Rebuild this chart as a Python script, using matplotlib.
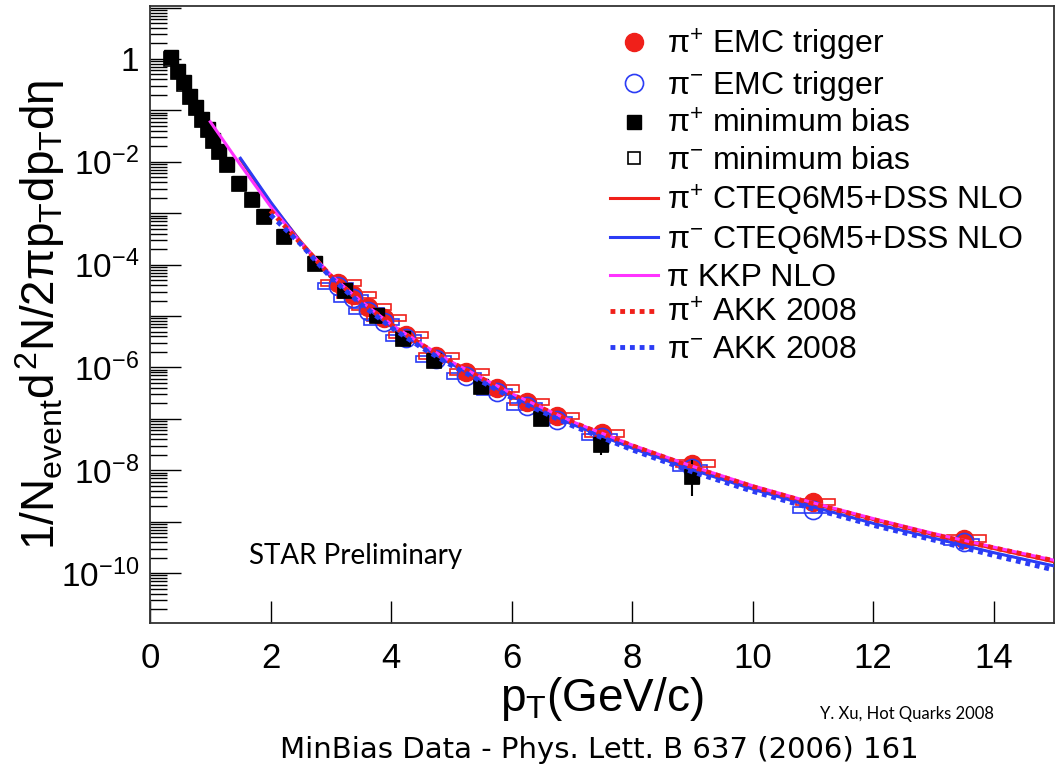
import matplotlib
matplotlib.use("Agg")
import matplotlib.pyplot as plt
from matplotlib.patches import Rectangle
from matplotlib.ticker import LogLocator, FuncFormatter, FixedLocator, NullLocator
import numpy as np

plt.rcParams['font.family'] = ['Liberation Sans', 'DejaVu Sans']
plt.rcParams['mathtext.fontset'] = 'custom'
plt.rcParams['mathtext.rm'] = 'Liberation Sans'
plt.rcParams['mathtext.it'] = 'Liberation Sans'
plt.rcParams['mathtext.sf'] = 'Liberation Sans'

# EMC triggered data
emc_pt = [3.125, 3.375, 3.625, 3.875, 4.25, 4.75, 5.25, 5.75, 6.25, 6.75, 7.5, 9.0, 11.0, 13.5]
emc_pip = [4.4e-5, 2.6e-5, 1.5e-5, 9.1e-6, 4.3e-6, 1.7e-6, 8.3e-7, 3.9e-7, 2.1e-7, 1.12e-7,
           5.2e-8, 1.35e-8, 2.45e-9, 4.7e-10]
emc_pim = [3.8e-5, 2.2e-5, 1.26e-5, 7.6e-6, 3.7e-6, 1.48e-6, 6.8e-7, 3.3e-7, 1.74e-7, 9.5e-8,
           4.4e-8, 1.1e-8, 1.7e-9, 4.0e-10]

# minimum bias data
mb_pt = [0.34, 0.46, 0.56, 0.66, 0.77, 0.86, 0.96, 1.04, 1.14, 1.28, 1.48, 1.70, 1.89, 2.22,
         2.73, 3.23, 3.76, 4.2, 4.72, 5.5, 6.49, 7.49, 8.99]
mb_pip = [1.07, 0.59, 0.35, 0.19, 0.115, 0.069, 0.043, 0.026, 0.016, 8.9e-3, 3.9e-3, 1.86e-3,
          8.9e-4, 3.6e-4, 1.07e-4, 3.2e-5, 1.05e-5, 3.7e-6, 1.38e-6, 4.3e-7, 1.02e-7, 3.3e-8, 7.8e-9]
mb_pim = [1.02, 0.56, 0.33, 0.18, 0.11, 0.066, 0.041, 0.025, 0.0152, 8.5e-3, 3.7e-3, 1.78e-3,
          8.5e-4, 3.45e-4, 1.02e-4, 3.05e-5, 1.0e-5, 3.5e-6, 1.32e-6, 4.1e-7, 9.8e-8, 3.1e-8, 7.4e-9]
mb_err_lo = [0]*21 + [1.3e-8, 4.6e-9]
mb_err_hi = [0]*21 + [1.7e-8, 8.0e-9]

# NLO curves
dss_pt = [1.5, 2.0, 2.5, 3.0, 3.5, 4.0, 4.5, 5.0, 6.0, 7.0, 8.0, 9.0, 10.0, 11.0, 12.0, 13.0, 14.0, 15.0]
dss_pip = [1.12e-2, 1.58e-3, 2.82e-4, 6.0e-5, 1.9e-5, 6.8e-6, 2.8e-6, 1.26e-6, 3.0e-7, 8.7e-8,
           3.0e-8, 1.15e-8, 4.8e-9, 2.24e-9, 1.10e-9, 5.6e-10, 3.0e-10, 1.66e-10]
dss_pim = [1.17e-2, 1.66e-3, 2.7e-4, 5.75e-5, 1.78e-5, 6.3e-6, 2.6e-6, 1.17e-6, 2.75e-7, 7.9e-8,
           2.7e-8, 1.02e-8, 4.3e-9, 1.95e-9, 9.3e-10, 4.8e-10, 2.5e-10, 1.38e-10]
kkp_pt = [1.0, 1.5, 2.0, 2.5, 3.0, 3.5, 4.0, 4.5, 5.0, 6.0, 7.0, 8.0, 9.0, 10.0, 11.0, 12.0, 13.0, 14.0, 15.0]
kkp_pi = [6.0e-2, 8.7e-3, 1.35e-3, 2.7e-4, 6.3e-5, 1.95e-5, 6.9e-6, 2.9e-6, 1.29e-6, 3.1e-7, 8.9e-8,
          3.1e-8, 1.2e-8, 5.0e-9, 2.34e-9, 1.15e-9, 5.9e-10, 3.2e-10, 1.78e-10]
akk_pt = [2.0, 2.5, 3.0, 3.5, 4.0, 4.5, 5.0, 6.0, 7.0, 8.0, 9.0, 10.0, 11.0, 12.0, 13.0, 14.0, 15.0]
akk_pip = [1.12e-3, 2.6e-4, 6.0e-5, 1.9e-5, 6.8e-6, 2.8e-6, 1.26e-6, 3.0e-7, 8.7e-8, 3.0e-8,
           1.15e-8, 4.8e-9, 2.24e-9, 1.10e-9, 5.6e-10, 3.1e-10, 1.74e-10]
akk_pim = [9.3e-4, 2.5e-4, 5.6e-5, 1.7e-5, 6.0e-6, 2.45e-6, 1.1e-6, 2.57e-7, 7.4e-8, 2.5e-8,
           9.3e-9, 3.9e-9, 1.78e-9, 8.5e-10, 4.4e-10, 2.2e-10, 1.15e-10]

RED = '#f0201a'
BLUE = '#2b3cf5'
MAG = '#ff33ff'
PIP = r'π$^{+}$'
PIM = r'π$^{\mathrm{-}}$'

fig = plt.figure(figsize=(10.61, 7.71), dpi=100)
ax = fig.add_axes([0.1414, 0.192, 0.852, 0.8002])

# systematic boxes
for x, y in zip(emc_pt, emc_pim):
    ax.add_patch(Rectangle((x - 0.33, y * 10**-0.06), 0.58, y * (10**0.06 - 10**-0.06),
                           fill=False, ec=BLUE, lw=1.2, zorder=2))
for x, y in zip(emc_pt, emc_pip):
    ax.add_patch(Rectangle((x - 0.28, y * 10**-0.06), 0.65, y * (10**0.06 - 10**-0.06),
                           fill=False, ec=RED, lw=1.2, zorder=2))

ax.plot(emc_pt, emc_pip, 'o', color=RED, ms=13, zorder=3, label=PIP + ' EMC trigger')
ax.plot(emc_pt, emc_pim, 'o', mfc='none', mec=BLUE, mew=1.2, ms=13, zorder=3,
        label=PIM + ' EMC trigger')
ax.errorbar(mb_pt, mb_pip, yerr=[mb_err_lo, mb_err_hi], fmt='none', ecolor='black', elinewidth=1.5,
            zorder=4)
ax.plot(mb_pt, mb_pim, 's', mfc='white', mec='black', mew=1.2, ms=10, zorder=4)
ax.plot(mb_pt, mb_pip, 's', color='black', ms=10, zorder=4, label=PIP + ' minimum bias')
# legend proxy for open squares
ax.plot([], [], 's', mfc='white', mec='black', mew=1.2, ms=8, label=PIM + ' minimum bias')

ax.plot(dss_pt, dss_pip, '-', color=RED, lw=2.2, zorder=5, label=PIP + ' CTEQ6M5+DSS NLO')
ax.plot(dss_pt, dss_pim, '-', color=BLUE, lw=2.2, zorder=5, label=PIM + ' CTEQ6M5+DSS NLO')
ax.plot(kkp_pt, kkp_pi, '-', color=MAG, lw=2.2, zorder=5, label='π KKP NLO')
ax.plot(akk_pt, akk_pip, color=RED, lw=3.5, ls=(0, (1, 1)), zorder=6, label=PIP + ' AKK 2008')
ax.plot(akk_pt, akk_pim, color=BLUE, lw=3.5, ls=(0, (1, 1)), zorder=6, label=PIM + ' AKK 2008')

ax.set_yscale('log')
ax.set_xlim(0, 15)
ax.set_ylim(10**-10.97, 10**1.03)

ax.xaxis.set_major_locator(FixedLocator([0, 2, 4, 6, 8, 10, 12, 14]))
ax.xaxis.set_minor_locator(NullLocator())
ax.yaxis.set_major_locator(LogLocator(base=10, numticks=30))
ax.yaxis.set_minor_locator(LogLocator(base=10, subs=np.arange(2, 10), numticks=30))


def ylab(v, pos):
    e = int(round(np.log10(v)))
    if e % 2:
        return ''
    if e == 0:
        return '1'
    return r'$10^{\mathrm{-}%d}$' % (-e)


ax.yaxis.set_major_formatter(FuncFormatter(ylab))
ax.tick_params(axis='y', which='major', direction='in', length=22, width=1, labelsize=24, pad=8,
               right=False)
ax.tick_params(axis='y', which='minor', direction='in', length=12, width=1, right=False)
ax.tick_params(axis='x', which='major', direction='in', length=16, width=1, labelsize=25, pad=14,
               top=False)
for sp in ax.spines.values():
    sp.set_linewidth(1.3)
    sp.set_color('#333333')

ax.set_ylabel(r'$1/N_{event}d^{2}N/2\pi p_{T}dp_{T}d\eta$', fontsize=33)
ax.yaxis.set_label_coords(-0.092, 0.5)
ax.set_xlabel(r'$p_{T}$(GeV/c)', fontsize=33, labelpad=0)

ax.legend(loc='upper left', bbox_to_anchor=(597 / 1061, 1 - 14 / 771), bbox_transform=fig.transFigure,
          frameon=False, fontsize=23, handlelength=1.5, handletextpad=0.3, labelspacing=0.2,
          borderaxespad=0, borderpad=0.4)

ax.text(0.11, 0.095, 'STAR Preliminary', transform=ax.transAxes, fontsize=20, family='Lato')
fig.text(0.855, 0.074, 'Y. Xu, Hot Quarks 2008', fontsize=12, family='Lato', ha='center', va='center')
fig.text(0.565, 0.027, 'MinBias Data - Phys. Lett. B 637 (2006) 161', fontsize=21,
         family='DejaVu Sans', ha='center', va='center')

fig.savefig('out.png', dpi=100)
